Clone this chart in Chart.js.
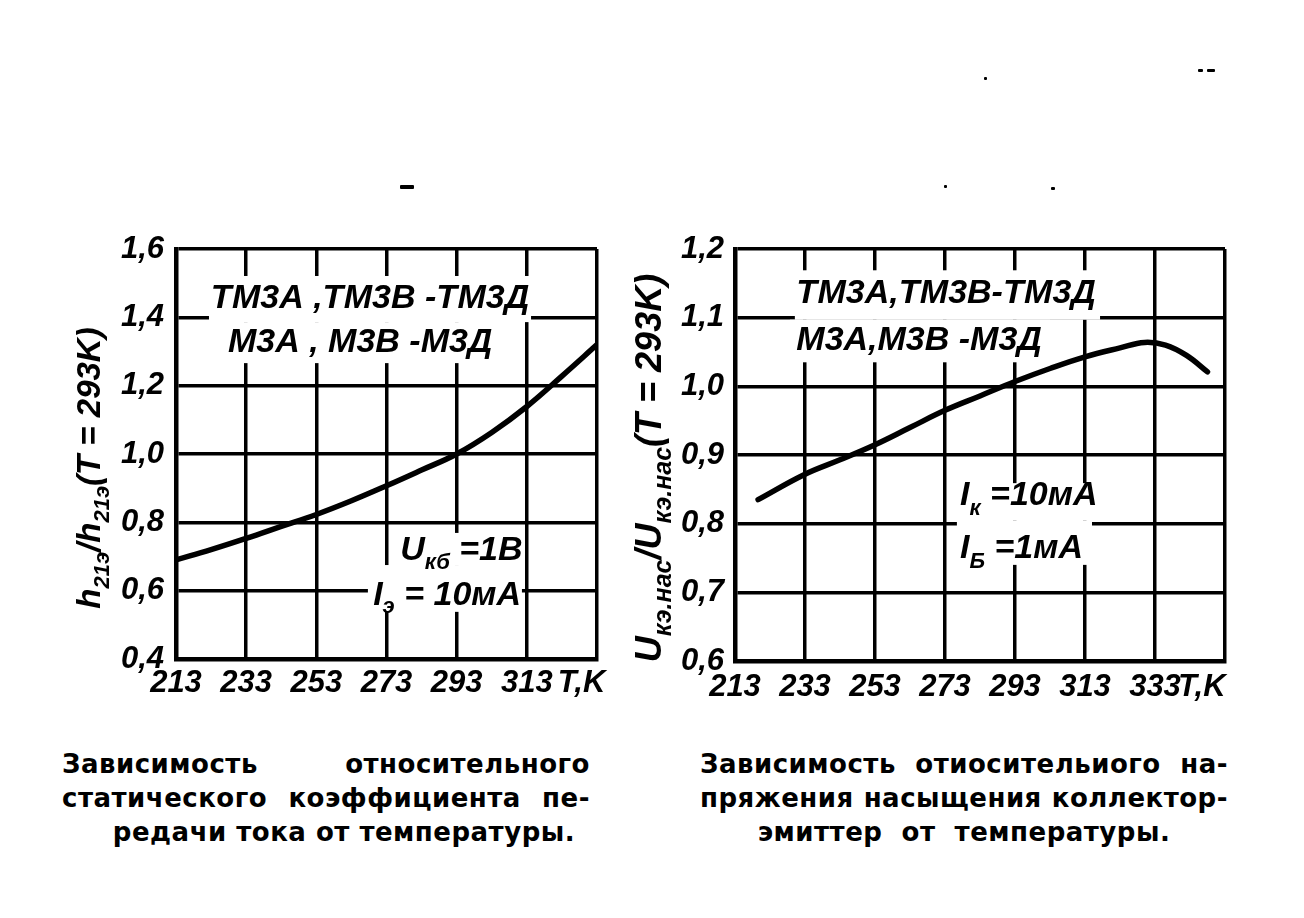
<!DOCTYPE html>
<html>
<head>
<meta charset="utf-8">
<script src="https://cdn.jsdelivr.net/npm/chart.js@4.4.1/dist/chart.umd.min.js"></script>
<style>
html,body{margin:0;padding:0;background:#fff;}
body{width:1304px;height:918px;position:relative;overflow:hidden;}
canvas{position:absolute;top:0;}
#c1{left:0;}
#c2{left:610px;}
.cap{position:absolute;font-family:"DejaVu Sans",sans-serif;font-weight:bold;font-size:26px;letter-spacing:0.5px;line-height:34px;color:#000;}
.cap div{white-space:pre;}
.j{text-align:justify;text-align-last:justify;white-space:normal !important;}
.c{text-align:center;}
.spot{position:absolute;background:#000;border-radius:1px;}
</style>
</head>
<body>
<canvas id="c1" width="610" height="740"></canvas>
<canvas id="c2" width="694" height="740"></canvas>

<div class="cap" style="left:62px;top:747px;width:528px;">
  <div class="j">Зависимость относительного</div>
  <div class="j">статического коэффициента пе-</div>
  <div class="c" style="padding-left:36px;">редачи тока от температуры.</div>
</div>
<div class="cap" style="left:700px;top:747px;width:528px;">
  <div class="j">Зависимость отиосительиого на-</div>
  <div class="j">пряжения насыщения коллектор-</div>
  <div class="c">эмиттер  от  температуры.</div>
</div>

<div class="spot" style="left:400px;top:185px;width:14px;height:4px;"></div>
<div class="spot" style="left:984px;top:77px;width:3px;height:3px;"></div>
<div class="spot" style="left:1198px;top:69px;width:5px;height:3px;"></div>
<div class="spot" style="left:1207px;top:69px;width:8px;height:3px;"></div>
<div class="spot" style="left:944px;top:185px;width:3px;height:3px;"></div>
<div class="spot" style="left:1051px;top:187px;width:4px;height:3px;"></div>

<script>
// ---------- data ----------
const leftTemperatureK   = [213, 223, 233, 243, 253, 263, 273, 283, 293, 303, 313, 323, 333];
const leftGainRatio      = [0.69, 0.72, 0.753, 0.788, 0.823, 0.863, 0.907, 0.953, 1.0, 1.063, 1.139, 1.228, 1.32];

const rightTemperatureK  = [219.6, 233, 243, 253, 263, 273, 283, 293, 303, 313, 323, 330, 336, 342, 348];
const rightSatVoltRatio  = [0.835, 0.872, 0.893, 0.915, 0.94, 0.965, 0.986, 1.007, 1.026, 1.043, 1.056, 1.064, 1.06, 1.045, 1.021];

const leftXTickValues  = [213, 233, 253, 273, 293, 313, 333];
const leftXTickLabels  = ['213', '233', '253', '273', '293', '313', 'T,K'];
const leftYTickValues  = [0.4, 0.6, 0.8, 1.0, 1.2, 1.4, 1.6];
const leftYTickLabels  = ['0,4', '0,6', '0,8', '1,0', '1,2', '1,4', '1,6'];

const rightXTickValues = [213, 233, 253, 273, 293, 313, 333, 353];
const rightXTickLabels = ['213', '233', '253', '273', '293', '313', '333', 'T,K'];
const rightYTickValues = [0.6, 0.7, 0.8, 0.9, 1.0, 1.1, 1.2];
const rightYTickLabels = ['0,6', '0,7', '0,8', '0,9', '1,0', '1,1', '1,2'];

const deviceLine1Left  = 'ТМ3А ,ТМ3В -ТМ3Д';
const deviceLine2Left  = 'М3А , М3В -М3Д';
const deviceLine1Right = 'ТМ3А,ТМ3В-ТМ3Д';
const deviceLine2Right = 'М3А,М3В -М3Д';

// ---------- drawing helpers ----------
const FONT = '"Liberation Sans", "DejaVu Sans", sans-serif';
function fnt(size){ return 'italic bold ' + size + 'px ' + FONT; }
function richWidth(ctx, parts, main, sub){
  let w = 0;
  for (const p of parts){ ctx.font = fnt(p.sub ? sub : main); w += ctx.measureText(p.t).width; }
  return w;
}
function drawRich(ctx, x, y, parts, main, sub, drop, align){
  const w = richWidth(ctx, parts, main, sub);
  let cx = align === 'center' ? x - w / 2 : x;
  ctx.textAlign = 'left';
  ctx.textBaseline = 'alphabetic';
  ctx.fillStyle = '#000';
  for (const p of parts){
    ctx.font = fnt(p.sub ? sub : main);
    ctx.fillText(p.t, cx, p.sub ? y + drop : y);
    cx += ctx.measureText(p.t).width;
  }
}

const notesPlugin = {
  id: 'notes',
  beforeDatasetsDraw(chart, args, opts){
    const ctx = chart.ctx, xs = chart.scales.x, ys = chart.scales.y;
    ctx.save();
    ctx.fillStyle = '#fff';
    for (const b of opts.boxes || []){
      const x0 = xs.getPixelForValue(b.x0), x1 = xs.getPixelForValue(b.x1);
      const y0 = ys.getPixelForValue(b.y0), y1 = ys.getPixelForValue(b.y1);
      ctx.fillRect(Math.min(x0,x1), Math.min(y0,y1), Math.abs(x1-x0), Math.abs(y1-y0));
    }
    for (const t of opts.texts || []){
      drawRich(ctx, xs.getPixelForValue(t.x), ys.getPixelForValue(t.y), t.parts, t.size, t.sub, t.drop, t.align);
    }
    ctx.restore();
  },
  afterDraw(chart, args, opts){
    const yt = opts.yTitle;
    if (!yt) return;
    const ctx = chart.ctx, ca = chart.chartArea;
    ctx.save();
    ctx.translate(ca.left + yt.offsetX, (ca.top + ca.bottom) / 2 + yt.offsetY);
    ctx.rotate(-Math.PI / 2);
    drawRich(ctx, 0, 0, yt.parts, yt.size, yt.sub, yt.drop, 'center');
    ctx.restore();
  }
};

function makeChart(canvasId, xs, ys, xMin, xMax, xTickValues, xTickLabels, yMin, yMax, yTickValues, yTickLabels, layout, notes){
  const tickFont = { family: FONT, size: 31, style: 'italic', weight: 'bold' };
  return new Chart(document.getElementById(canvasId), {
    type: 'line',
    data: {
      datasets: [{
        data: xs.map((x, i) => ({ x: x, y: ys[i] })),
        borderColor: '#000',
        borderWidth: 5.5,
        pointRadius: 0,
        fill: false,
        tension: 0.4,
        borderCapStyle: 'round'
      }]
    },
    options: {
      responsive: false,
      animation: false,
      devicePixelRatio: 1,
      layout: { padding: layout.padding },
      plugins: { legend: { display: false }, tooltip: { enabled: false }, notes: notes },
      scales: {
        x: {
          type: 'linear', min: xMin, max: xMax,
          afterBuildTicks: s => { s.ticks = xTickValues.map(v => ({ value: v })); },
          afterFit: s => { s.height = 40; s.paddingLeft = 0; s.paddingRight = 0; },
          grid: { color: '#000', lineWidth: 3.5, drawTicks: false },
          border: { display: true, color: '#000', width: 4.5 },
          ticks: {
            color: '#000', font: tickFont, padding: layout.xPad, maxRotation: 0, autoSkip: false,
            callback: (v, i) => xTickLabels[i] === 'T,K' ? 'T,K' + layout.tkPad : xTickLabels[i]
          }
        },
        y: {
          type: 'linear', min: yMin, max: yMax,
          afterBuildTicks: s => { s.ticks = yTickValues.map(v => ({ value: v })); },
          afterFit: s => { s.width = layout.yWidth; s.paddingTop = 0; s.paddingBottom = 0; },
          grid: { color: '#000', lineWidth: 3.5, drawTicks: false },
          border: { display: true, color: '#000', width: 4.5 },
          ticks: {
            color: '#000', font: tickFont, padding: layout.yPad, autoSkip: false,
            callback: (v, i) => yTickLabels[i]
          }
        }
      }
    },
    plugins: [notesPlugin]
  });
}

const P = (t, sub) => ({ t: t, sub: !!sub });

// left chart
makeChart('c1', leftTemperatureK, leftGainRatio, 213, 333, leftXTickValues, leftXTickLabels,
  0.4, 1.6, leftYTickValues, leftYTickLabels,
  { padding: { top: 249, right: 13, bottom: 41, left: 0 }, yWidth: 176, xPad: 6, yPad: 12, tkPad: '\u2002\u2002' },
  {
    boxes: [
      { x0: 222.4, x1: 314.2, y0: 1.521, y1: 1.386 },
      { x0: 226.1, x1: 305.4, y0: 1.386, y1: 1.266 },
      { x0: 275.4, x1: 311.1, y0: 0.769, y1: 0.675 },
      { x0: 267.7, x1: 311.6, y0: 0.675, y1: 0.538 }
    ],
    texts: [
      { x: 268.3, y: 1.427, parts: [P(deviceLine1Left)], size: 34, sub: 22, drop: 9, align: 'center' },
      { x: 265.5, y: 1.299, parts: [P(deviceLine2Left)], size: 34, sub: 22, drop: 9, align: 'center' },
      { x: 276.9, y: 0.690, parts: [P('U'), P('кб', 1), P(' =1В')], size: 34, sub: 22, drop: 9, align: 'left' },
      { x: 269.2, y: 0.558, parts: [P('I'), P('э', 1), P(' = 10мА')], size: 34, sub: 22, drop: 8, align: 'left' }
    ],
    yTitle: { offsetX: -76, offsetY: 14, size: 33, sub: 22, drop: 9,
      parts: [P('h'), P('21э', 1), P('/'), P('h'), P('21э', 1), P('(T = 293K)')] }
  });

// right chart
makeChart('c2', rightTemperatureK, rightSatVoltRatio, 213, 353, rightXTickValues, rightXTickLabels,
  0.6, 1.2, rightYTickValues, rightYTickLabels,
  { padding: { top: 249, right: 79, bottom: 39, left: 0 }, yWidth: 125, xPad: 8, yPad: 11, tkPad: '\u2002\u2002\u2002' },
  {
    boxes: [
      { x0: 230.1, x1: 317.3, y0: 1.169, y1: 1.097 },
      { x0: 228.7, x1: 303.0, y0: 1.097, y1: 1.035 },
      { x0: 276.4, x1: 321.6, y0: 0.859, y1: 0.805 },
      { x0: 276.4, x1: 315.0, y0: 0.805, y1: 0.740 }
    ],
    texts: [
      { x: 273.3, y: 1.121, parts: [P(deviceLine1Right)], size: 34, sub: 22, drop: 9, align: 'center' },
      { x: 265.6, y: 1.053, parts: [P(deviceLine2Right)], size: 34, sub: 22, drop: 9, align: 'center' },
      { x: 277.3, y: 0.827, parts: [P('I'), P('к', 1), P(' =10мА')], size: 34, sub: 22, drop: 10, align: 'left' },
      { x: 277.3, y: 0.750, parts: [P('I'), P('Б', 1), P(' =1мА')], size: 34, sub: 22, drop: 10, align: 'left' }
    ],
    yTitle: { offsetX: -74, offsetY: 13, size: 36, sub: 25, drop: 10,
      parts: [P('U'), P('кэ.нас', 1), P('/'), P('U'), P('кэ.нас', 1), P('(T = 293K)')] }
  });
</script>
</body>
</html>
